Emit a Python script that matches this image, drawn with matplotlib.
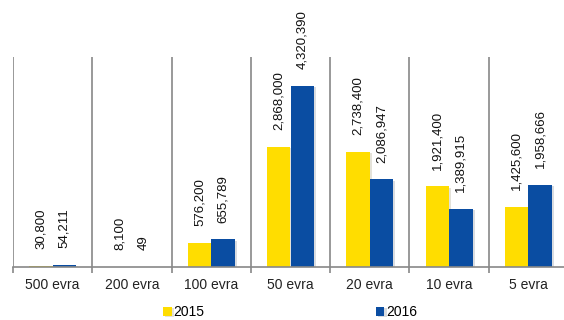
import matplotlib
matplotlib.use("Agg")
import matplotlib.pyplot as plt
import matplotlib.patheffects as pe
import numpy as np

categories = ["500 evra", "200 evra", "100 evra", "50 evra", "20 evra", "10 evra", "5 evra"]
values_2015 = [30800, 8100, 576200, 2868000, 2738400, 1921400, 1425600]
values_2016 = [54211, 49, 655789, 4320390, 2086947, 1389915, 1958666]
series_names = ["2015", "2016"]
colors = ["#FFDD00", "#0A4DA2"]

plt.rcParams['font.family'] = ['Liberation Sans', 'DejaVu Sans']

fig = plt.figure(figsize=(5.64, 3.2), dpi=100)
ax = fig.add_axes([13/564, 1-267/320, 555/564, 210/320])

x = np.arange(len(categories))
w = 0.296
shadow = [pe.SimplePatchShadow(offset=(1.5, -1), alpha=0.15), pe.Normal()]
b1 = ax.bar(x - w/2, values_2015, w, color=colors[0], label=series_names[0], path_effects=shadow, zorder=2)
b2 = ax.bar(x + w/2, values_2016, w, color=colors[1], label=series_names[1], path_effects=shadow, zorder=2)

for bars, vals in ((b1, values_2015), (b2, values_2016)):
    for r, v in zip(bars, vals):
        ax.annotate(f"{v:,}", (r.get_x() + r.get_width()/2, r.get_height()),
                    xytext=(0, 12), textcoords="offset points", rotation=90,
                    ha="center", va="bottom", fontsize=9.5, color="#111111",
                    annotation_clip=False)

ax.set_xlim(-0.5, len(categories) - 0.5)
ax.set_ylim(0, 5_000_000)
ax.set_xticks(x)
ax.set_xticklabels(categories, fontsize=10, color="#222222")
ax.set_xticks(np.arange(len(categories) + 1) - 0.5, minor=True)
ax.tick_params(axis="x", which="major", length=0, pad=8)
ax.tick_params(axis="x", which="minor", length=4, color="#888888", width=1.2)
ax.grid(axis="x", which="minor", color="#888888", linewidth=1.2, zorder=1)
ax.set_yticks([])
for s in ("left", "right", "top"):
    ax.spines[s].set_visible(False)
ax.spines["bottom"].set_color("#888888")
ax.spines["bottom"].set_linewidth(1.2)
ax.spines["bottom"].set_zorder(4)

fig.legend(handles=[b1, b2], labels=series_names, loc="center",
           bbox_to_anchor=(290/564, 1-312/320), ncol=2, frameon=False,
           fontsize=10, handlelength=0.6, handleheight=0.6, handletextpad=0.1,
           columnspacing=12.4, borderpad=0)

fig.savefig("out.png", dpi=100)
